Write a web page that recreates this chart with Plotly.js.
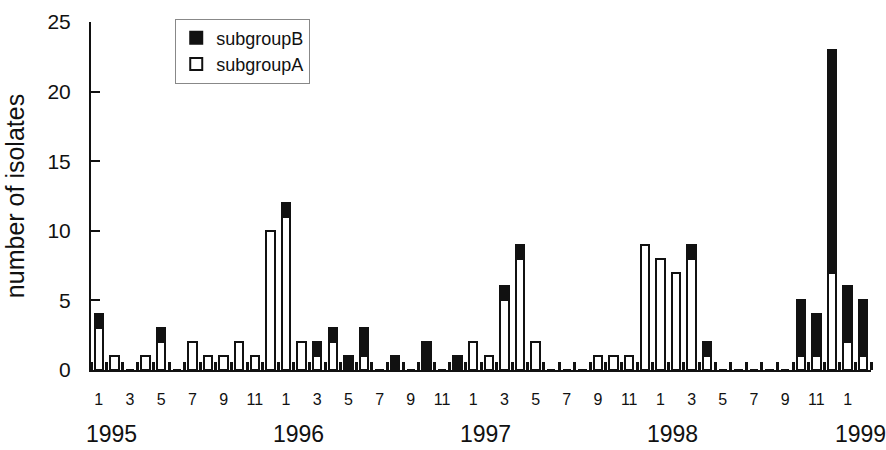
<!DOCTYPE html>
<html>
<head>
<meta charset="utf-8">
<script src="https://cdn.plot.ly/plotly-3.0.1.min.js"></script>
<style>
html,body{margin:0;padding:0;background:#fff;}
#chart{width:886px;height:450px;}
</style>
</head>
<body>
<div id="chart"></div>
<script>
// Months Jan 1995 .. Feb 1999
const years = ['1995', '1996', '1997', '1998', '1999'];
const monthNumbers = [
  1,2,3,4,5,6,7,8,9,10,11,12,
  1,2,3,4,5,6,7,8,9,10,11,12,
  1,2,3,4,5,6,7,8,9,10,11,12,
  1,2,3,4,5,6,7,8,9,10,11,12,
  1,2
];
const subgroupA = [
  3,1,0,1,2,0,2,1,1,2,1,10,
  11,2,1,2,0,1,0,0,0,0,0,0,
  2,1,5,8,2,0,0,0,1,1,1,9,
  8,7,8,1,0,0,0,0,0,1,1,7,
  2,1
];
const subgroupB = [
  1,0,0,0,1,0,0,0,0,0,0,0,
  1,0,1,1,1,2,0,1,0,2,0,1,
  0,0,1,1,0,0,0,0,0,0,0,0,
  0,0,1,1,0,0,0,0,0,4,3,16,
  4,4
];

const xIdx = monthNumbers.map((m, i) => i);
const tickIdx = xIdx.filter(i => monthNumbers[i] % 2 === 1);
const tickText = tickIdx.map(i => String(monthNumbers[i]));
const boundaries = xIdx.map(i => i - 0.5).concat([xIdx.length - 0.5]);

const FONT = '"Liberation Sans", Arial, sans-serif';

const traces = [
  {
    type: 'bar', name: 'subgroupA', x: xIdx, y: subgroupA,
    marker: {color: '#ffffff', line: {color: '#111', width: 2}},
    hoverinfo: 'skip'
  },
  {
    type: 'bar', name: 'subgroupB', x: xIdx, y: subgroupB,
    marker: {color: '#111', line: {color: '#111', width: 2}},
    hoverinfo: 'skip'
  }
];

const annotations = years.map((y, i) => ({
  text: y, x: i * 12 + 0.8, xref: 'x', y: -0.183, yref: 'paper',
  showarrow: false, xanchor: 'center', yanchor: 'middle',
  font: {family: FONT, size: 23, color: '#111'}
}));

const layout = {
  width: 886, height: 450,
  margin: {l: 91, r: 15, t: 22, b: 80},
  paper_bgcolor: '#fff', plot_bgcolor: '#fff',
  font: {family: FONT, color: '#111'},
  barmode: 'stack', bargap: 0.45,
  showlegend: true,
  legend: {
    x: 0.108, y: 1.01, xanchor: 'left', yanchor: 'top',
    traceorder: 'reversed',
    bordercolor: '#888', borderwidth: 1, bgcolor: '#fff',
    font: {family: FONT, size: 18, color: '#111'}
  },
  xaxis: {
    range: [-0.5, xIdx.length - 0.5],
    tickmode: 'array', tickvals: tickIdx, ticktext: tickText,
    ticks: '', showgrid: false, zeroline: false,
    showline: true, linecolor: '#111', linewidth: 2,
    tickfont: {family: FONT, size: 16, color: '#111'},
    ticklabelstandoff: 14,
    minor: {tickmode: 'array', tickvals: boundaries, ticks: 'inside', ticklen: 8, tickwidth: 3, tickcolor: '#111', showgrid: false}
  },
  yaxis: {
    range: [0, 25], tickmode: 'linear', tick0: 0, dtick: 5,
    ticks: 'inside', ticklen: 9, tickwidth: 2, tickcolor: '#111',
    showgrid: false, zeroline: false,
    showline: true, linecolor: '#111', linewidth: 2,
    tickfont: {family: FONT, size: 21, color: '#111'},
    ticklabelstandoff: 14,
    title: {text: 'number of isolates', font: {family: FONT, size: 25, color: '#111'}, standoff: 16}
  },
  annotations: annotations
};

Plotly.newPlot('chart', traces, layout, {staticPlot: true, displayModeBar: false});
</script>
</body>
</html>
